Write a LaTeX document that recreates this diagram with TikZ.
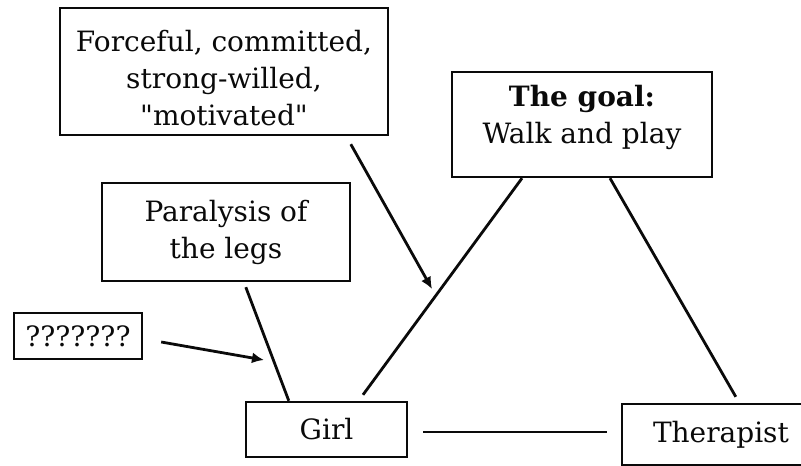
\documentclass[tikz,border=0pt]{standalone}
\usepackage{fontspec}
\setmainfont{DejaVu Serif}[Ligatures=TeXOff]
\usetikzlibrary{arrows.meta,calc}
\definecolor{GpInk}{RGB}{10,10,10}
\tikzset{
  gp/box/.style={
    draw=GpInk,
    line width=2.4pt,
    fill=white,
    align=center,
    text=GpInk,
    inner sep=0pt,
    font=\fontsize{28}{37}\selectfont
  },
  gp/line/.style={line width=2.8pt, draw=GpInk},
  gp/arrow/.style={-{Latex[length=12pt,width=11pt]}, line width=2.8pt, draw=GpInk}
}
\begin{document}
\begin{tikzpicture}[x=1pt,y=-1pt]
  \useasboundingbox (0,0) rectangle (801,466);
  \node[gp/box,minimum width=328pt,minimum height=127pt] (force) at (224,71.5)
    {\rule{0pt}{34pt}Forceful, committed,\\strong-willed,\\"motivated"};
  \node[gp/box,minimum width=260pt,minimum height=105pt] (goal) at (582,124.5)
    {\textbf{The goal:}\\Walk and play\rule[-20pt]{0pt}{0pt}};
  \node[gp/box,minimum width=248pt,minimum height=98pt] (para) at (226,232)
    {Paralysis of\\the legs};
  \node[gp/box,minimum width=128pt,minimum height=46pt] (quest) at (78,336)
    {???????};
  \node[gp/box,minimum width=161pt,minimum height=55pt] (girl) at (326.5,429.5) {Girl};
  \node[gp/box,minimum width=210pt,minimum height=61pt,text width=200pt,
    align=left,inner xsep=5pt] (ther) at (727,434.5) {\hspace{26pt}Therapist};
  \coordinate (forcetip) at (432,289);
  \coordinate (questtip) at (264,360);
  % influences on the girl
  \draw[gp/arrow] ($(force.south west)+(292,8)$) -- (forcetip);
  \draw[gp/arrow] ($(quest.east)+(18,6)$) -- (questtip);
  \draw[gp/line] ($(para.south west)+(145,5)$) -- ($(girl.north west)+(44,0)$);
  % triangle
  \draw[gp/line] ($(girl.north)+(36.5,-6)$) -- ($(goal.south)+(-60,0)$);
  \draw[gp/line] ($(goal.south)+(28,0)$) -- ($(ther.north west)+(115,-6)$);
  \draw[gp/line] ($(girl.east)+(15,2.5)$) -- ($(ther.west)+(-14,-2.5)$);
\end{tikzpicture}
\end{document}
